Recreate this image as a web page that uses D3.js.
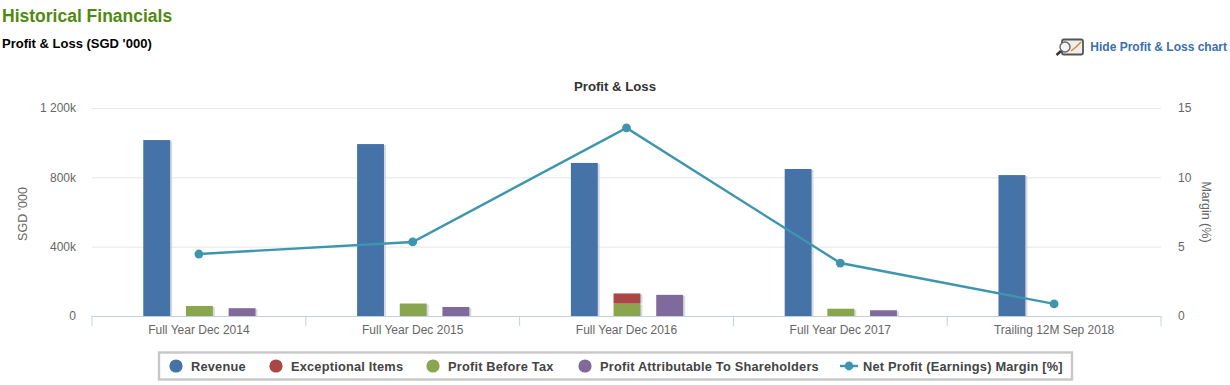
<!DOCTYPE html>
<html><head><meta charset="utf-8">
<script src="https://cdn.jsdelivr.net/npm/d3@7/dist/d3.min.js"></script>
<style>
html,body{margin:0;padding:0;background:#fff;overflow:hidden}
svg{display:block;font-family:"Liberation Sans",Arial,sans-serif}
</style></head><body>
<svg id="c" width="1230" height="385"></svg>
<script>
const categories=["Full Year Dec 2014","Full Year Dec 2015","Full Year Dec 2016","Full Year Dec 2017","Trailing 12M Sep 2018"];
const revenue=[1015,992,883,848,813];
const exceptionalItems=[0,0,58,0,0];
const profitBeforeTax=[58,72,72,42,0];
const profitAttributable=[45,52,122,33,0];
const netMargin=[4.47,5.34,13.56,3.82,0.87];
const leftTicks=[0,400,800,1200];
const rightTicks=[0,5,10,15];
const legendItems=["Revenue","Exceptional Items","Profit Before Tax","Profit Attributable To Shareholders","Net Profit (Earnings) Margin [%]"];
const legendStarts=[170,270,427,579,836];
const colors={rev:"#4572a7",exc:"#aa4643",pbt:"#89a54e",pat:"#80699b",line:"#3d96ae"};

const svg=d3.select("#c");
const x=d3.scaleBand().domain(categories).range([92,1161]);
const y=d3.scaleLinear().domain([0,1200]).range([316,108]);
const yr=d3.scaleLinear().domain([0,15]).range([316,108]);
const off=d3.scaleBand().domain(["rev","stack","pat"]).range([0,x.bandwidth()]).paddingInner(0.37).paddingOuter(1.19);
const grey="#666";

// header
svg.append("text").attr("x",2).attr("y",22).attr("font-size",17.5).attr("font-weight","bold").attr("fill","#4f8a10").text("Historical Financials");
svg.append("text").attr("x",2).attr("y",48).attr("font-size",13).attr("font-weight","bold").attr("fill","#000").text("Profit & Loss (SGD '000)");
svg.append("text").attr("x",1227).attr("y",51).attr("text-anchor","end").attr("font-size",12).attr("font-weight","bold").attr("fill","#3a6fb0").text("Hide Profit & Loss chart");

// icon
const ic=svg.append("g");
ic.append("rect").attr("x",1062).attr("y",39.5).attr("width",21).attr("height",15).attr("rx",2).attr("fill","#eee").attr("stroke","#555").attr("stroke-width",1.8);
ic.append("path").attr("d","M1071 51 L1076 47 L1081 42").attr("fill","none").attr("stroke","#d08a3a").attr("stroke-width",1.5);
ic.append("circle").attr("cx",1065).attr("cy",47).attr("r",5).attr("fill","#f4f4f4").attr("stroke","#666").attr("stroke-width",1.4);
ic.append("line").attr("x1",1061).attr("y1",51).attr("x2",1056.5).attr("y2",55).attr("stroke","#333").attr("stroke-width",2.4);

svg.append("text").attr("x",615).attr("y",90.5).attr("text-anchor","middle").attr("font-size",13.2).attr("font-weight","bold").attr("fill","#333").text("Profit & Loss");

// grid
svg.append("g").selectAll("line").data(leftTicks.filter(d=>d>0)).join("line")
 .attr("x1",92).attr("x2",1161).attr("y1",d=>y(d)+.5).attr("y2",d=>y(d)+.5).attr("stroke","#e6e6e6");

// axes
const fmt=d=>d>=1000?d3.format(",")(d).replace(","," ")+"k":d+(d?"k":"");
const gl=svg.append("g").attr("transform","translate(92,0)").call(d3.axisLeft(y).tickValues(leftTicks).tickFormat(fmt).tickSize(0).tickPadding(16));
gl.select(".domain").remove();
const gr=svg.append("g").attr("transform","translate(1161,0)").call(d3.axisRight(yr).tickValues(rightTicks).tickSize(0).tickPadding(17));
gr.select(".domain").remove();
const gx=svg.append("g").attr("transform","translate(0,316.5)").call(d3.axisBottom(x).tickSize(0).tickPadding(9));
gx.select(".domain").attr("stroke","#c0d0e0").attr("d","M92,0H1161");
svg.append("g").selectAll("line").data(d3.range(categories.length+1)).join("line")
 .attr("x1",i=>92+i*x.step()).attr("x2",i=>92+i*x.step()).attr("y1",316).attr("y2",326).attr("stroke","#c0d0e0");
svg.selectAll(".tick text").attr("font-size",12).attr("font-family","'Liberation Sans',Arial,sans-serif").attr("fill",grey);

svg.append("text").attr("transform","translate(27,214) rotate(-90)").attr("text-anchor","middle").attr("font-size",12.5).attr("fill",grey).text("SGD '000");
svg.append("text").attr("transform","translate(1202,212) rotate(90)").attr("text-anchor","middle").attr("font-size",12.5).attr("fill",grey).text("Margin (%)");

// bars
const bars=[];
categories.forEach((c,i)=>{
 bars.push({c,k:"rev",lo:0,hi:revenue[i],col:colors.rev});
 bars.push({c,k:"stack",lo:0,hi:profitBeforeTax[i],col:colors.pbt});
 bars.push({c,k:"stack",lo:profitBeforeTax[i],hi:profitBeforeTax[i]+exceptionalItems[i],col:colors.exc});
 bars.push({c,k:"pat",lo:0,hi:profitAttributable[i],col:colors.pat});
});
const vis=bars.filter(b=>b.hi>b.lo);
const bx=b=>x(b.c)+off(b.k)+0.5;
svg.append("g").selectAll("rect").data(vis).join("rect")
 .attr("x",b=>bx(b)+2).attr("y",b=>y(b.hi)+1).attr("width",off.bandwidth()).attr("height",b=>y(b.lo)-y(b.hi)-1)
 .attr("fill","#c9cdd6").attr("opacity",.75);
svg.append("g").selectAll("rect").data(vis).join("rect")
 .attr("x",bx).attr("y",b=>y(b.hi)).attr("width",off.bandwidth()).attr("height",b=>y(b.lo)-y(b.hi))
 .attr("fill",b=>b.col);

// line
const pts=categories.map((c,i)=>[x(c)+x.bandwidth()/2,yr(netMargin[i])]);
svg.append("path").attr("d",d3.line()(pts)).attr("fill","none").attr("stroke",colors.line).attr("stroke-width",2.4);
svg.append("g").selectAll("circle").data(pts).join("circle").attr("cx",d=>d[0]).attr("cy",d=>d[1]).attr("r",4.4).attr("fill",colors.line);

// legend
svg.append("rect").attr("x",159).attr("y",352.5).attr("width",913).attr("height",27).attr("fill","#fff").attr("stroke","#c8c8c8").attr("stroke-width",2.4);
const legendColors=[colors.rev,colors.exc,colors.pbt,colors.pat,colors.line];
legendItems.forEach((t,i)=>{
 const sx=legendStarts[i];
 if(i<4) svg.append("circle").attr("cx",sx+6).attr("cy",366).attr("r",6.6).attr("fill",legendColors[i]);
 else{
  svg.append("line").attr("x1",sx+4).attr("x2",sx+22).attr("y1",366).attr("y2",366).attr("stroke",colors.line).attr("stroke-width",2.4);
  svg.append("circle").attr("cx",sx+13).attr("cy",366).attr("r",4.4).attr("fill",colors.line);
 }
 svg.append("text").attr("x",i<4?sx+21:sx+27).attr("y",371).attr("font-size",12.8).attr("font-weight","bold").attr("fill","#444").attr("letter-spacing",.2).text(t);
});
</script></body></html>
